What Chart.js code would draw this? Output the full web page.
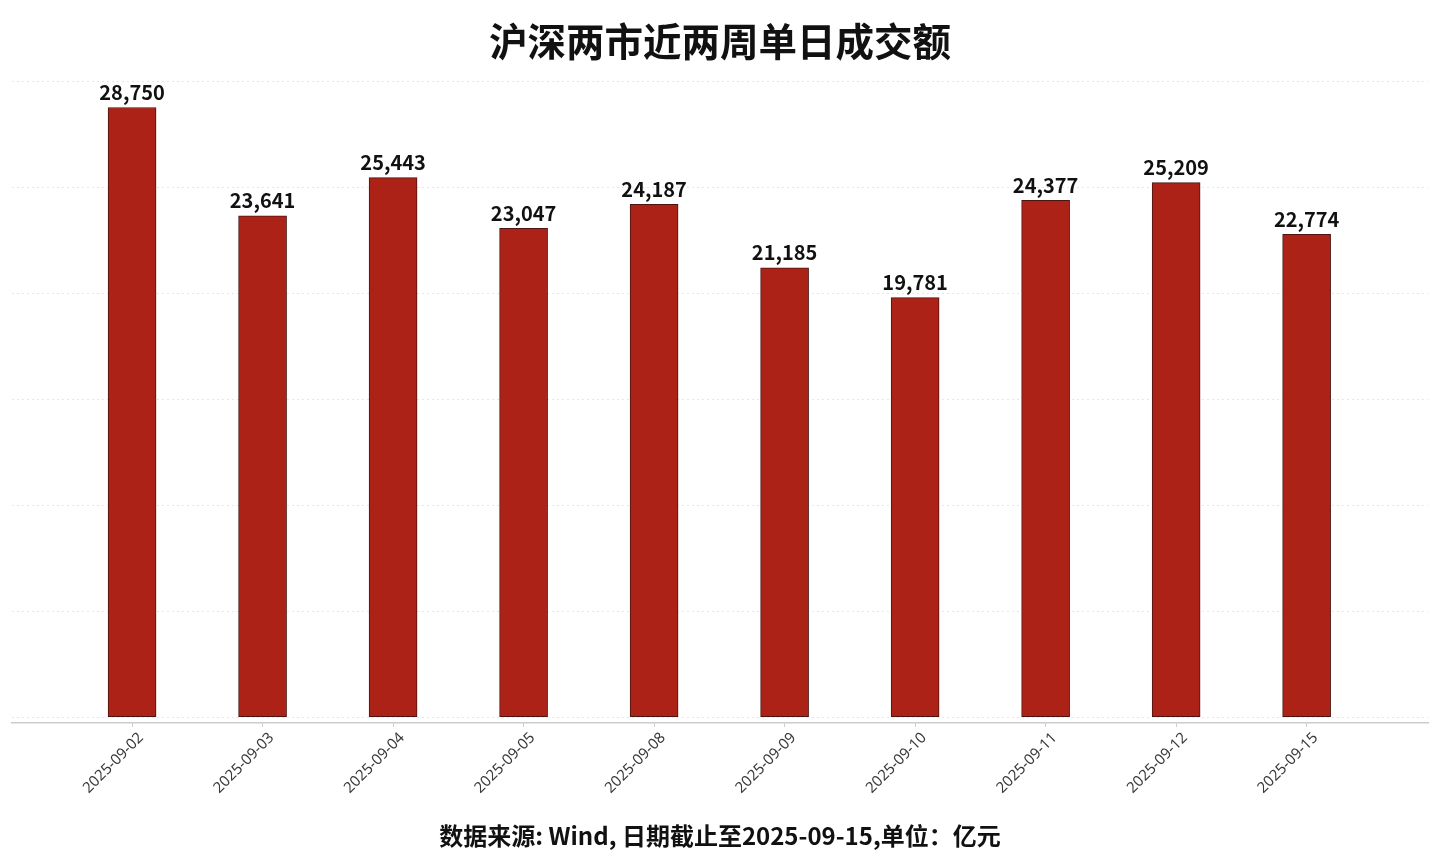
<!DOCTYPE html>
<html>
<head>
<meta charset="utf-8">
<script src="https://cdn.jsdelivr.net/npm/chart.js@4.4.1/dist/chart.umd.min.js"></script>
<style>
  html, body { margin: 0; padding: 0; background: #fff; }
  #wrap { width: 1440px; height: 864px; }
</style>
</head>
<body>
<div id="wrap"><canvas id="chart" width="1440" height="864"></canvas></div>
<script>
const dates = ['2025-09-02', '2025-09-03', '2025-09-04', '2025-09-05', '2025-09-08',
  '2025-09-09', '2025-09-10', '2025-09-11', '2025-09-12', '2025-09-15'];
const turnover = [28750, 23641, 25443, 23047, 24187, 21185, 19781, 24377, 25209, 22774];
const yTicks = [0, 5000, 10000, 15000, 20000, 25000, 30000];

const titleText = '沪深两市近两周单日成交额';
const footText = '数据来源: Wind, 日期截止至2025-09-15,单位：亿元';
const CJK = '"Noto Sans CJK SC", "Noto Sans", sans-serif';

//标题、脚注和柱顶数值
const textPlugin = {
  id: 'texts',
  afterDatasetsDraw(chart) {
    const ctx = chart.ctx;
    const meta = chart.getDatasetMeta(0);
    ctx.save();
    ctx.fillStyle = '#111';
    ctx.textAlign = 'center';
    ctx.textBaseline = 'bottom';
    ctx.font = 'bold 20px ' + CJK;
    meta.data.forEach((bar, i) => {
      ctx.fillText(turnover[i].toLocaleString('en-US'), bar.x, bar.y - 5);
    });

    ctx.textBaseline = 'middle';
    ctx.font = 'bold 38.5px ' + CJK;
    ctx.fillText(titleText, 720, 41);
    ctx.font = 'bold 24px ' + CJK;
    ctx.fillText(footText, 720, 836);
    ctx.restore();
  }
};

new Chart(document.getElementById('chart'), {
  type: 'bar',
  data: {
    datasets: [{
      data: turnover.map((v, i) => ({ x: i, y: v })),
      backgroundColor: '#ad2216',
      borderColor: '#4a1410',
      borderWidth: 1,
      borderSkipped: false,
      barThickness: 48
    }]
  },
  options: {
    responsive: false,
    animation: false,
    layout: { padding: { top: 81, left: 12, right: 12, bottom: 0 } },
    plugins: { legend: { display: false }, tooltip: { enabled: false } },
    scales: {
      x: {
        type: 'linear',
        offset: false,
        min: -0.92,
        max: 9.93,
        afterBuildTicks: s => { s.ticks = dates.map((d, i) => ({ value: i })); },
        afterFit: s => { s.height = 141; },
        ticks: {
          autoSkip: false,
          minRotation: 45,
          maxRotation: 45,
          labelOffset: 9,
          color: '#3a3a3a',
          font: { family: 'Noto Sans', size: 15 },
          padding: 2,
          callback: v => dates[v]
        },
        grid: { offset: false, drawOnChartArea: false, drawTicks: true, tickLength: 4, color: '#ccc' },
        border: { color: '#ccc', width: 1.5 }
      },
      y: {
        min: -280,
        max: 30000,
        afterBuildTicks: s => { s.ticks = yTicks.map(v => ({ value: v })); },
        afterFit: s => { s.width = 0; },
        ticks: { display: false },
        grid: { color: '#e6e6e6', drawTicks: false },
        border: { display: false, dash: [2, 3] }
      }
    }
  },
  plugins: [textPlugin]
});
</script>
</body>
</html>
